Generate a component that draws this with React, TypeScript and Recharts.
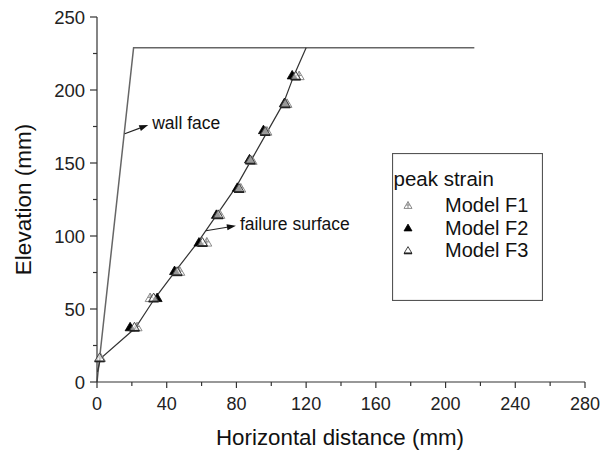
import React from 'react';
import { ComposedChart, Line, Scatter, XAxis, YAxis, Legend, ReferenceLine, Label } from 'recharts';

const FONT = '"Liberation Sans", Arial, sans-serif';

const xTicks = [0, 20, 40, 60, 80, 100, 120, 140, 160, 180, 200, 220, 240, 260, 280];
const yTicks = [0, 25, 50, 75, 100, 125, 150, 175, 200, 225, 250];

const wallFace = [
  { x: 0, y: 0 },
  { x: 21, y: 229 },
  { x: 216.5, y: 229 },
];

const failureSurface = [
  { x: 0.3, y: 7 },
  { x: 2, y: 16 },
  { x: 22, y: 37 },
  { x: 33, y: 57 },
  { x: 45, y: 76 },
  { x: 58, y: 96 },
  { x: 69, y: 115 },
  { x: 80, y: 134 },
  { x: 89, y: 153 },
  { x: 98, y: 172 },
  { x: 107, y: 191 },
  { x: 113, y: 210 },
  { x: 120, y: 229 },
];

const modelF1 = [
  { x: 2, y: 17 },
  { x: 23, y: 38 },
  { x: 30.5, y: 58 },
  { x: 47.5, y: 76 },
  { x: 63, y: 96 },
  { x: 70.5, y: 115 },
  { x: 82.5, y: 133 },
  { x: 89, y: 152 },
  { x: 97.5, y: 172 },
  { x: 109, y: 191 },
  { x: 116, y: 210 },
];

const modelF2 = [
  { x: 19, y: 38 },
  { x: 34.5, y: 58 },
  { x: 44.5, y: 76.5 },
  { x: 58.5, y: 96 },
  { x: 68.5, y: 115 },
  { x: 80.5, y: 133.5 },
  { x: 87.5, y: 153 },
  { x: 95.5, y: 173 },
  { x: 107.5, y: 191.5 },
  { x: 112, y: 210.5 },
];

const modelF3 = [
  { x: 1.5, y: 17 },
  { x: 21.5, y: 38 },
  { x: 32.5, y: 58 },
  { x: 46, y: 76 },
  { x: 60.5, y: 96 },
  { x: 69.5, y: 115 },
  { x: 81.5, y: 133 },
  { x: 88, y: 152.5 },
  { x: 96.5, y: 172 },
  { x: 108, y: 191 },
  { x: 114, y: 210 },
];

const seriesNames = ['Model F1', 'Model F2', 'Model F3'];
const legendTitle = 'peak strain';

const wallArrow = [{ x: 15.9, y: 170 }, { x: 29.4, y: 176 }];
const failureArrow = [{ x: 62.5, y: 103.6 }, { x: 79.7, y: 107 }];

const Tri = ({ cx, cy, s, kind }: { cx: number; cy: number; s: number; kind: number }) => {
  const h = s * 0.85;
  const pts = `${cx - s / 2},${cy + h / 2} ${cx + s / 2},${cy + h / 2} ${cx},${cy - h / 2}`;
  if (kind === 0) {
    return (
      <g>
        <polygon points={pts} fill="none" stroke="#8a8a8a" strokeWidth={1} />
        <line x1={cx} x2={cx} y1={cy - h / 2} y2={cy + h / 2} stroke="#8a8a8a" strokeWidth={1} />
        <line x1={cx - s / 4} x2={cx + s / 4} y1={cy} y2={cy} stroke="#8a8a8a" strokeWidth={1} />
      </g>
    );
  }
  if (kind === 1) {
    return <polygon points={pts} fill="#000" stroke="#000" strokeWidth={0.8} />;
  }
  return (
    <g>
      <polygon points={pts} fill="#fff" fillOpacity={0.6} stroke="#444" strokeWidth={1} />
      <line x1={cx - s / 2} x2={cx + s / 2} y1={cy + h / 2} y2={cy + h / 2} stroke="#222" strokeWidth={1.8} />
    </g>
  );
};

const makeShape = (kind: number) => (props: any) => {
  const { cx, cy } = props;
  if (cx == null || cy == null) return <g />;
  return <Tri cx={cx} cy={cy} s={10} kind={kind} />;
};

const XTick = (p: any) => {
  const { x, y, payload } = p;
  const v = payload.value;
  const major = v % 40 === 0;
  return (
    <g>
      <line x1={x} x2={x} y1={y} y2={y + (major ? 6 : 4)} stroke="#333" strokeWidth={1.2} />
      {major && (
        <text x={x} y={y + 28} textAnchor="middle" fontSize={18} fill="#222" fontFamily={FONT}>
          {v}
        </text>
      )}
    </g>
  );
};

const YTick = (p: any) => {
  const { x, y, payload } = p;
  const v = payload.value;
  const major = v % 50 === 0;
  return (
    <g>
      <line x1={x} x2={x - (major ? 7 : 4)} y1={y} y2={y} stroke="#333" strokeWidth={1.2} />
      {major && (
        <text x={x - 12} y={y + 6.5} textAnchor="end" fontSize={18.5} fill="#222" fontFamily={FONT}>
          {v}
        </text>
      )}
    </g>
  );
};

const makeArrow = (text: string) => (props: any) => {
  const { x1, y1, x2, y2 } = props;
  const dx = x2 - x1;
  const dy = y2 - y1;
  const len = Math.sqrt(dx * dx + dy * dy) || 1;
  const ux = dx / len;
  const uy = dy / len;
  const hl = 9;
  const hw = 3;
  const bx = x2 - ux * hl;
  const by = y2 - uy * hl;
  const head = `${x2},${y2} ${bx - uy * hw},${by + ux * hw} ${bx + uy * hw},${by - ux * hw}`;
  return (
    <g>
      <line x1={x1} y1={y1} x2={bx} y2={by} stroke="#222" strokeWidth={1.2} />
      <polygon points={head} fill="#111" />
      <text x={x2 + 4} y={y2 + 4} fontSize={17.5} fill="#111" fontFamily={FONT}>
        {text}
      </text>
    </g>
  );
};

const LegendBox = () => (
  <svg width={151} height={148} style={{ display: 'block' }}>
    <rect x={0.5} y={0.5} width={150} height={147} fill="#fff" stroke="#555" strokeWidth={1.2} />
    <text x={1.5} y={33} fontSize={20.5} fill="#111" fontFamily={FONT}>
      {legendTitle}
    </text>
    {seriesNames.map((n, i) => {
      const cy = 52 + i * 22.5;
      return (
        <g key={n}>
          <Tri cx={16} cy={cy} s={8} kind={i} />
          <text x={53} y={cy + 7} fontSize={20} fill="#111" fontFamily={FONT}>
            {n}
          </text>
        </g>
      );
    })}
  </svg>
);

export default function App() {
  return (
    <div style={{ position: 'absolute', left: 0, top: 0, background: '#fff' }}>
      <ComposedChart width={607} height={450} margin={{ top: 17, right: 22, left: 0, bottom: 0 }}>
        <XAxis
          type="number"
          dataKey="x"
          domain={[0, 280]}
          ticks={xTicks}
          interval={0}
          tickLine={false}
          tickSize={0}
          tickMargin={0}
          axisLine={{ stroke: '#333', strokeWidth: 1.2 }}
          height={68}
          tick={<XTick />}
        >
          <Label
            content={(props: any) => {
              const vb = props.viewBox || { x: 97, y: 382, width: 488 };
              return (
                <text
                  x={vb.x + vb.width / 2 - 1}
                  y={vb.y + 63}
                  textAnchor="middle"
                  fontSize={21.5}
                  textLength={248}
                  lengthAdjust="spacingAndGlyphs"
                  fill="#111"
                  fontFamily={FONT}
                >
                  Horizontal distance (mm)
                </text>
              );
            }}
          />
        </XAxis>
        <YAxis
          type="number"
          dataKey="y"
          domain={[0, 250]}
          ticks={yTicks}
          interval={0}
          tickLine={false}
          tickSize={0}
          tickMargin={0}
          axisLine={{ stroke: '#333', strokeWidth: 1.2 }}
          width={97}
          tick={<YTick />}
        >
          <Label
            content={(props: any) => {
              const vb = props.viewBox || { x: 0, y: 17, height: 365 };
              const cy = vb.y + vb.height / 2;
              return (
                <text
                  x={31}
                  y={cy}
                  transform={`rotate(-90, 31, ${cy})`}
                  textAnchor="middle"
                  fontSize={22.5}
                  fill="#111"
                  fontFamily={FONT}
                >
                  Elevation (mm)
                </text>
              );
            }}
          />
        </YAxis>
        <Line
          data={wallFace}
          dataKey="y"
          type="linear"
          stroke="#666"
          strokeWidth={1.5}
          dot={false}
          activeDot={false}
          legendType="none"
          isAnimationActive={false}
        />
        <Line
          data={failureSurface}
          dataKey="y"
          type="linear"
          stroke="#333"
          strokeWidth={1.2}
          dot={false}
          activeDot={false}
          legendType="none"
          isAnimationActive={false}
        />
        <Scatter name={seriesNames[0]} data={modelF1} shape={makeShape(0)} isAnimationActive={false} />
        <Scatter name={seriesNames[1]} data={modelF2} shape={makeShape(1)} isAnimationActive={false} />
        <Scatter name={seriesNames[2]} data={modelF3} shape={makeShape(2)} isAnimationActive={false} />
        <ReferenceLine segment={wallArrow} shape={makeArrow('wall face')} ifOverflow="visible" />
        <ReferenceLine segment={failureArrow} shape={makeArrow('failure surface')} ifOverflow="visible" />
        <Legend
          layout="vertical"
          align="center"
          verticalAlign="middle"
          wrapperStyle={{ position: 'absolute', left: 392, top: 153, width: 151, height: 148, margin: 0, padding: 0 }}
          content={() => <LegendBox />}
        />
      </ComposedChart>
    </div>
  );
}
